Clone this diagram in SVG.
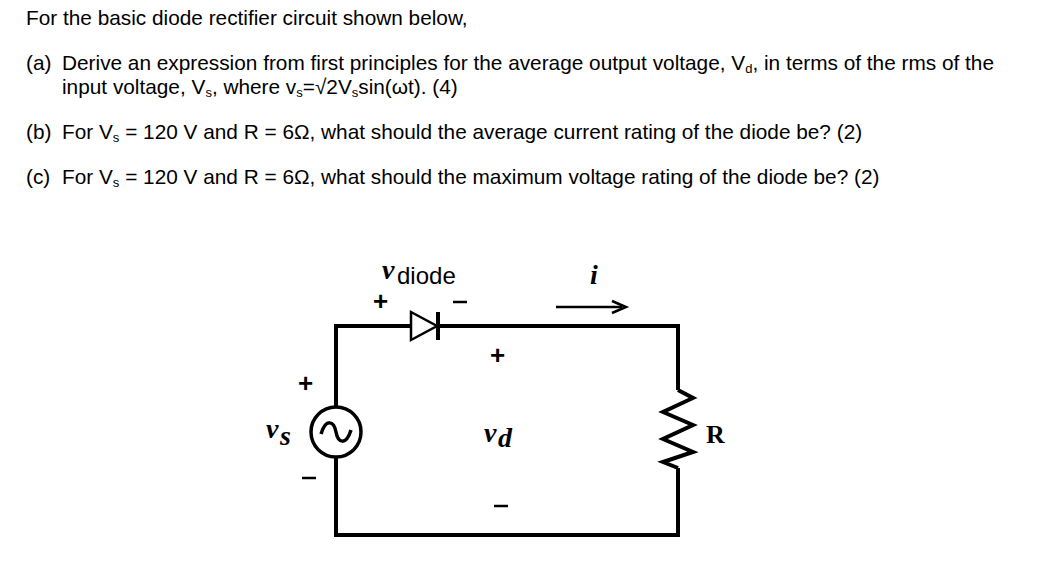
<svg xmlns="http://www.w3.org/2000/svg" width="1043" height="574" viewBox="0 0 1043 574">
<style>
.t{font-family:"Liberation Sans",Arial,sans-serif;font-size:20.8px;fill:#000}
.s{font-size:13px}
.w{fill:none;stroke:#000;stroke-width:4;stroke-linejoin:miter}
.m{font-family:"Liberation Serif",serif;font-style:italic;font-weight:bold;font-size:28px}
.p{font-family:"Liberation Sans",Arial,sans-serif;font-size:26px;font-weight:bold}
.n{stroke:#000;stroke-width:2.5}
</style>
<rect width="1043" height="574" fill="#fff"/>
<g id="text">
<text class="t" x="26" y="25">For the basic diode rectifier circuit shown below,</text>
<text class="t" x="26" y="70">(a)</text>
<text class="t" x="62" y="70">Derive an expression from first principles for the average output voltage, V<tspan class="s" dy="3">d</tspan><tspan dy="-3">, in terms of the rms of the</tspan></text>
<text class="t" x="62" y="94">input voltage, V<tspan class="s" dy="3">s</tspan><tspan dy="-3">, where v</tspan><tspan class="s" dy="3">s</tspan><tspan dy="-3">=√2V</tspan><tspan class="s" dy="3">s</tspan><tspan dy="-3">sin(ωt). (4)</tspan></text>
<text class="t" x="26" y="139">(b)</text>
<text class="t" x="62" y="139">For V<tspan class="s" dy="3">s</tspan><tspan dy="-3"> = 120 V and R = 6Ω, what should the average current rating of the diode be? (2)</tspan></text>
<text class="t" x="26" y="184">(c)</text>
<text class="t" x="62" y="184">For V<tspan class="s" dy="3">s</tspan><tspan dy="-3"> = 120 V and R = 6Ω, what should the maximum voltage rating of the diode be? (2)</tspan></text>
</g>
<g id="wires">
<path class="w" d="M336 407 V326 H410 M438 326 H678 V390 M678 468 V535 H336 V457"/>
<path class="w" d="M678 390 L693 398 L663 412 L693 425 L663 439 L693 452 L663 462 L678 468" stroke-width="3"/>
<path d="M556 307 H622" stroke="#000" stroke-width="2.5" fill="none"/>
<path d="M612 301 L626 307 L612 313" stroke="#000" stroke-width="2.5" fill="none"/>
</g>
<g id="source">
<circle cx="336" cy="432" r="25" fill="#fff" stroke="#000" stroke-width="3.5"/>
<path d="M321 434 C326 418 334 421 336 432 C338 443 346 446 351 430" fill="none" stroke="#000" stroke-width="3.5"/>
</g>
<g id="diode">
<path d="M411 312 L437 326 L411 340 Z" fill="#fff" stroke="#000" stroke-width="2.5"/>
<path d="M438 312 V340" stroke="#000" stroke-width="4"/>
</g>
<g id="labels">
<text class="m" x="382" y="279">v</text><text x="397" y="284" font-family="Liberation Sans,Arial,sans-serif" font-size="24">diode</text>
<text class="p" x="373" y="310">+</text><path class="n" d="M453 302 H467"/>
<text class="m" x="590" y="284">i</text>
<text class="p" x="490" y="364">+</text>
<text class="m" x="484" y="442">v</text><text class="m" x="498" y="447" font-size="25">d</text>
<path class="n" d="M494 506 H508"/>
<text class="p" x="298" y="392">+</text>
<path class="n" d="M302 478 H316"/>
<text class="m" x="266" y="438">v</text><text class="m" x="280" y="445" font-size="22">s</text>
<text x="706" y="443" font-family="Liberation Serif,serif" font-weight="bold" font-size="26">R</text>
</g>
</svg>
